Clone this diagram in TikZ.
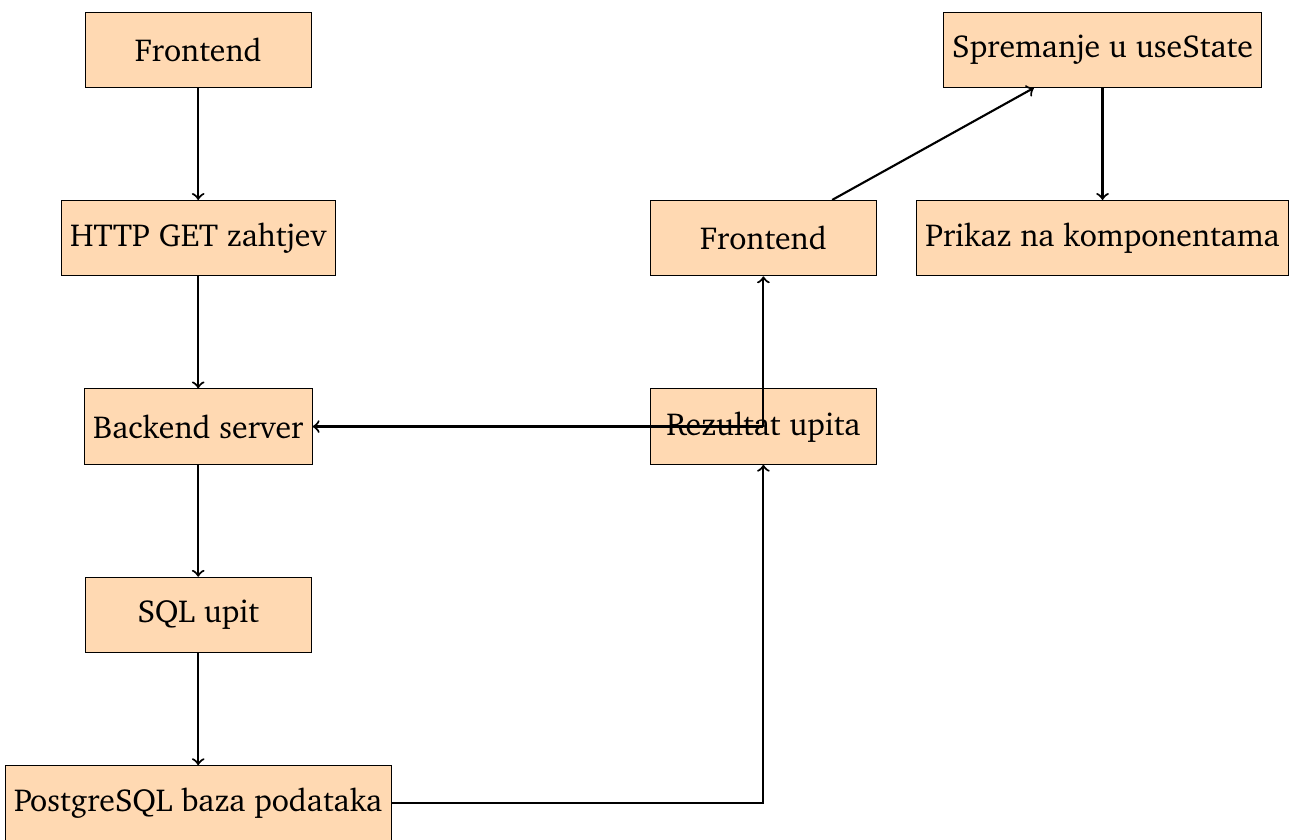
\documentclass[tikz,border=0pt]{standalone}
\usepackage[T1]{fontenc}
\usepackage{charter}
\usepackage{tikz}
\usetikzlibrary{arrows}
\tikzstyle{korak} = [rectangle, minimum width=3cm, minimum height=1cm, text centered, draw=black, fill=orange!30, font=\large]

\begin{document}
\begin{tikzpicture}[node distance=2.5cm]
        \tikzset{strelica/.style={->, thick}}
        \useasboundingbox (-2.63,0.66) rectangle (14.62,-10.48);
        \node (front) [korak] {Frontend};
        \node (http) [korak, below of=front] {HTTP GET zahtjev};
        \node (backend) [korak, below of=http] {Backend server};
        \node (sql) [korak, below of=backend] {SQL upit};
        \node (baza) [korak, below of=sql] {PostgreSQL baza podataka};

        \node (rezultat) [korak, right of=backend, xshift=5cm] {Rezultat upita};
        \node (front2) [korak, above of=rezultat] {Frontend};
        \node (spremanje) [korak, above of=front2, xshift=4.5cm] {Spremanje u useState};
        \node (prikaz) [korak, below of=spremanje] {Prikaz na komponentama};

        \draw [strelica] (front) -- (http);
        \draw [strelica] (http) -- (backend);
        \draw [strelica] (backend) -- (sql);
        \draw [strelica] (sql) -- (baza);
        \draw [strelica] (baza.east) -| (rezultat.south);
        \draw [strelica] (rezultat.center) -- (backend.east);
        \draw [strelica] (rezultat.center) -- (front2.south);
        \draw [strelica] (front2) -- (spremanje);
        \draw [strelica] (spremanje) -- (prikaz);
    \end{tikzpicture}
\end{document}
